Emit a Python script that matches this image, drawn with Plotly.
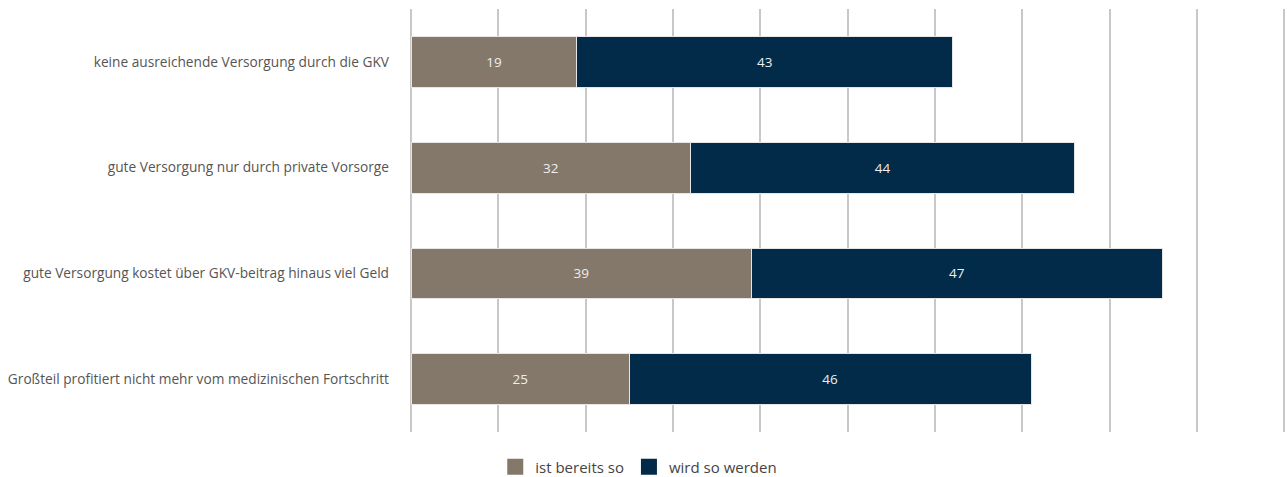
import plotly.graph_objects as go

categories = [
    "keine ausreichende Versorgung durch die GKV",
    "gute Versorgung nur durch private Vorsorge",
    "gute Versorgung kostet über GKV-beitrag hinaus viel Geld",
    "Großteil profitiert nicht mehr vom medizinischen Fortschritt",
]
bereits = [19, 32, 39, 25]
werden = [43, 44, 47, 46]
series_names = ["ist bereits so", "wird so werden"]
colors = ["#84786b", "#022b4a"]

FONT = "Open Sans"

fig = go.Figure()
for name, vals, col in zip(series_names, [bereits, werden], colors):
    fig.add_trace(go.Bar(
        y=categories, x=vals, name=name, orientation="h",
        marker=dict(color=col, line=dict(color="#e6e6e6", width=1)),
        text=[str(v) for v in vals], textposition="inside",
        insidetextanchor="middle",
        textfont=dict(color="#eeeeee", size=13.5, family=FONT),
        hoverinfo="x+y+name", showlegend=False,
    ))
# legend entries with larger square swatches
for name, col in zip(series_names, colors):
    fig.add_trace(go.Scatter(
        x=[None], y=[None], mode="markers", name=name,
        marker=dict(symbol="square", size=20, color=col),
    ))

fig.update_layout(
    barmode="stack",
    width=1287, height=477,
    margin=dict(l=411, r=0, t=9, b=45, autoexpand=False),
    plot_bgcolor="white", paper_bgcolor="white",
    bargap=0.52,
    font=dict(family=FONT, size=13.7, color="#555555"),
    legend=dict(orientation="h", x=0.26, xanchor="center", y=-0.083, yanchor="middle",
                font=dict(size=15, color="#444444"), traceorder="normal",
                itemsizing="trace"),
)
fig.update_xaxes(range=[0, 100.3], dtick=10, showgrid=True, gridcolor="#c8c8c8", gridwidth=1.5,
                 showticklabels=False, zeroline=True, zerolinecolor="#c8c8c8", zerolinewidth=1.5,
                 showline=False, fixedrange=True)
fig.update_yaxes(autorange="reversed", showgrid=False, ticks="", ticklabelstandoff=21,
                 tickfont=dict(size=13.7, color="#555555"), showline=False, zeroline=False)

fig.write_html("out.html", config={"displayModeBar": False},
               post_script="document.body.style.margin='0';document.body.style.overflow='hidden';")
